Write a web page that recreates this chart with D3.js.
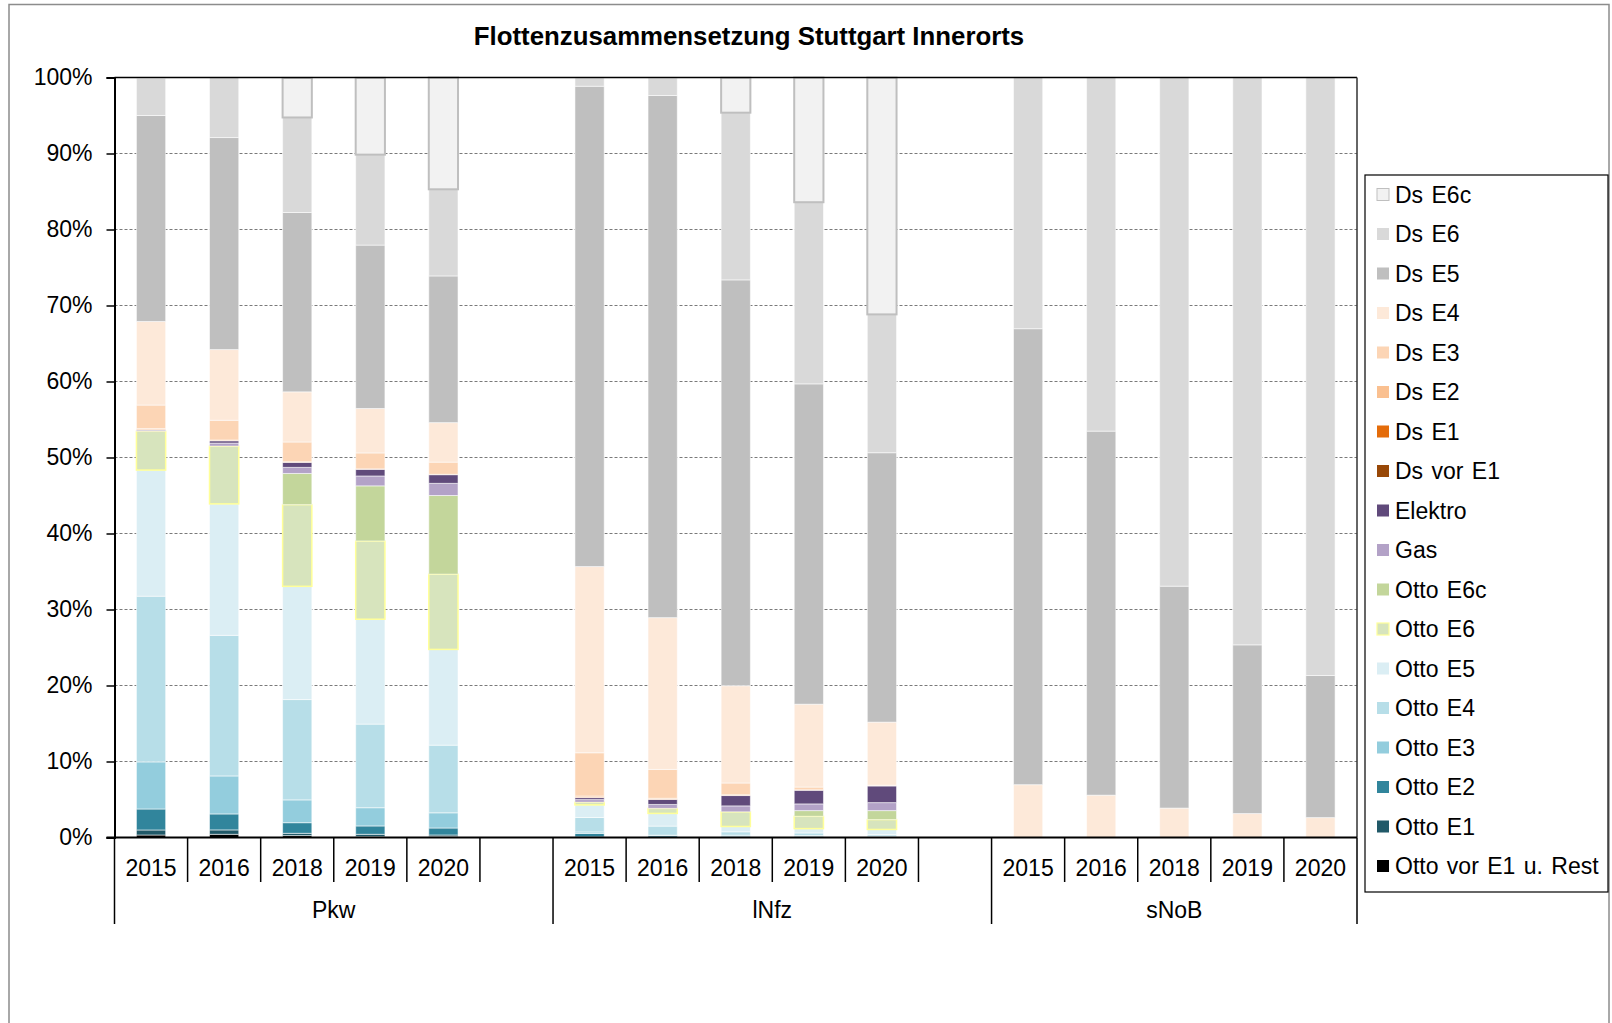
<!DOCTYPE html>
<html>
<head>
<meta charset="utf-8">
<script src="https://cdn.jsdelivr.net/npm/d3@7/dist/d3.min.js"></script>
<style>
  html, body { margin: 0; padding: 0; background: #fff; }
  svg { display: block; font-family: "Liberation Sans", Arial, sans-serif; }
</style>
</head>
<body>
<svg id="chart" width="1612" height="1023"></svg>
<script>
// ---------------- DATA ----------------
const chartTitle = "Flottenzusammensetzung Stuttgart Innerorts";
const groups = ["Pkw", "lNfz", "sNoB"];
const years = ["2015", "2016", "2018", "2019", "2020"];
const yTicks = [0, 10, 20, 30, 40, 50, 60, 70, 80, 90, 100];

// series, bottom of stack first; each array: Pkw 2015..2020, lNfz 2015..2020, sNoB 2015..2020
const seriesNames = ["Otto vor E1 u. Rest", "Otto E1", "Otto E2", "Otto E3", "Otto E4", "Otto E5",
  "Otto E6", "Otto E6c", "Gas", "Elektro", "Ds vor E1", "Ds E1", "Ds E2", "Ds E3", "Ds E4",
  "Ds E5", "Ds E6", "Ds E6c"];
const ottoVorE1 = [0.33, 0.42, 0.25, 0.12, 0.13,  0.03, 0.02, 0.02, 0.02, 0.02,  0, 0, 0, 0, 0];
const ottoE1    = [0.66, 0.58, 0.30, 0.30, 0.20,  0.05, 0.03, 0.03, 0.03, 0.03,  0, 0, 0, 0, 0];
const ottoE2    = [2.76, 2.10, 1.40, 1.10, 0.92,  0.45, 0.20, 0.05, 0.05, 0.05,  0, 0, 0, 0, 0];
const ottoE3    = [6.2, 5.0, 3.0, 2.4, 2.0,       0.20, 0.05, 0.20, 0.15, 0.10,  0, 0, 0, 0, 0];
const ottoE4    = [21.8, 18.5, 13.2, 11.0, 8.9,   1.90, 1.20, 0.45, 0.35, 0.20,  0, 0, 0, 0, 0];
const ottoE5    = [16.6, 17.3, 14.9, 13.8, 12.6,  1.66, 1.67, 0.70, 0.57, 0.66,  0, 0, 0, 0, 0];
const ottoE6    = [5.1, 7.6, 10.75, 10.3, 9.9,    0.35, 0.66, 1.93, 1.62, 1.30,  0, 0, 0, 0, 0];
const ottoE6c   = [0, 0, 4.1, 7.25, 10.35,        0, 0, 0, 0.75, 1.18,           0, 0, 0, 0, 0];
const gas       = [0.1, 0.4, 0.8, 1.3, 1.6,       0.35, 0.52, 0.78, 0.88, 1.05,  0, 0, 0, 0, 0];
const elektro   = [0.1, 0.3, 0.66, 0.88, 1.14,    0.26, 0.66, 1.36, 1.80, 2.20,  0, 0, 0, 0, 0];
const dsVorE1   = [0, 0, 0, 0, 0,                 0, 0, 0, 0, 0,                 0, 0, 0, 0, 0];
const dsE1      = [0, 0, 0, 0, 0,                 0, 0, 0, 0, 0,                 0, 0, 0, 0, 0];
const dsE2      = [0.15, 0.1, 0.08, 0.05, 0.05,   0.2, 0.15, 0.1, 0.05, 0.03,    0, 0, 0, 0, 0];
const dsE3      = [3.1, 2.6, 2.6, 2.1, 1.6,       5.7, 3.8, 1.55, 0.37, 0.06,    0, 0, 0, 0, 0];
const dsE4      = [11.0, 9.3, 6.6, 5.85, 5.2,     24.5, 19.97, 12.8, 10.9, 8.3,  6.95, 5.57, 3.87, 3.15, 2.62];
const dsE5      = [27.1, 27.9, 23.6, 21.5, 19.3,  63.2, 68.7, 53.4, 42.15, 35.45, 60.0, 47.9, 29.2, 22.2, 18.7];
const dsE6      = [4.9, 7.9, 12.5, 11.9, 11.4,   1.1, 2.3, 22.0, 23.9, 18.2,    33.05, 46.53, 66.93, 74.65, 78.68];
const dsE6c     = [0, 0, 5.2, 10.1, 14.7,         0, 0, 4.6, 16.4, 31.15,        0, 0, 0, 0, 0];

const seriesValues = [ottoVorE1, ottoE1, ottoE2, ottoE3, ottoE4, ottoE5, ottoE6, ottoE6c, gas, elektro,
  dsVorE1, dsE1, dsE2, dsE3, dsE4, dsE5, dsE6, dsE6c];
const seriesColors = ["#000000", "#215968", "#31859C", "#93CDDD", "#B7DEE8", "#DBEEF4",
  "#D7E4BD", "#C3D69B", "#B3A2C7", "#604A7B", "#984807", "#E46C0A", "#FAC090", "#FCD5B5",
  "#FDE9D9", "#BFBFBF", "#D9D9D9", "#F2F2F2"];

// ---------------- LAYOUT ----------------
const svg = d3.select("#chart");
const FONT = 23;
const plot = { left: 114.5, right: 1357, top: 77.5, bottom: 837.5 };

// slots: each group = 5 years + 1 blank (last group no blank)
const slots = [];
groups.forEach((g, gi) => {
  years.forEach(yr => slots.push({ key: g + "|" + yr, group: g, year: yr }));
  if (gi < groups.length - 1) slots.push({ key: g + "|blank", group: g, year: null });
});

const x = d3.scaleBand().domain(slots.map(s => s.key)).range([plot.left, plot.right]).padding(0);
const y = d3.scaleLinear().domain([0, 100]).range([plot.bottom, plot.top]);
const barW = x.bandwidth() * 0.4;

// outer frame
svg.append("rect").attr("x", 9).attr("y", 4.5).attr("width", 1600).attr("height", 1030)
  .attr("fill", "#fff").attr("stroke", "#8c8c8c").attr("stroke-width", 1.5);

// title
svg.append("text").attr("x", 749).attr("y", 36).attr("dy", "0.35em")
  .attr("text-anchor", "middle").attr("font-weight", "bold").attr("font-size", 25.8)
  .text(chartTitle);

// gridlines
svg.append("g").selectAll("line").data(yTicks.filter(t => t > 0 && t < 100)).join("line")
  .attr("x1", plot.left).attr("x2", plot.right)
  .attr("y1", d => y(d)).attr("y2", d => y(d))
  .attr("stroke", "#7a7a7a").attr("stroke-width", 1).attr("stroke-dasharray", "3,2");

// stacked bars
const barSlots = slots.filter(s => s.year !== null);
const rows = barSlots.map((s, i) => {
  const r = { key: s.key };
  seriesNames.forEach((n, si) => { r[n] = seriesValues[si][i]; });
  return r;
});
const stacked = d3.stack().keys(seriesNames)(rows);

const barsG = svg.append("g");
stacked.forEach((layer, si) => {
  const name = seriesNames[si];
  let stroke = "rgba(255,255,255,0.55)", sw = 1;
  if (name === "Ds E6c") { stroke = "#BFBFBF"; sw = 2; }
  if (name === "Otto E6") { stroke = "#FFFF99"; sw = 1.5; }
  barsG.append("g").selectAll("rect")
    .data(layer.filter(d => d[1] - d[0] > 0)).join("rect")
    .attr("x", d => x(d.data.key) + (x.bandwidth() - barW) / 2)
    .attr("width", barW)
    .attr("y", d => y(d[1]))
    .attr("height", d => y(d[0]) - y(d[1]))
    .attr("fill", seriesColors[si])
    .attr("stroke", stroke).attr("stroke-width", sw);
});

// plot border top/right
svg.append("line").attr("x1", plot.left).attr("x2", plot.right).attr("y1", plot.top).attr("y2", plot.top)
  .attr("stroke", "#000").attr("stroke-width", 1.5);
svg.append("line").attr("x1", plot.right).attr("x2", plot.right).attr("y1", plot.top).attr("y2", plot.bottom)
  .attr("stroke", "#333").attr("stroke-width", 1.5);

// y axis
const yAxis = svg.append("g").attr("transform", `translate(${plot.left},0)`)
  .call(d3.axisLeft(y).tickValues(yTicks).tickFormat(d => d + "%").tickSize(8).tickPadding(14));
yAxis.select(".domain").attr("stroke", "#000").attr("stroke-width", 2);
yAxis.selectAll(".tick line").attr("stroke", "#000").attr("stroke-width", 1.5);
yAxis.selectAll(".tick text").attr("font-size", FONT).attr("fill", "#000")
  .attr("font-family", "'Liberation Sans', Arial, sans-serif");

// x axis baseline
svg.append("line").attr("x1", plot.left - 8).attr("x2", plot.right).attr("y1", plot.bottom).attr("y2", plot.bottom)
  .attr("stroke", "#000").attr("stroke-width", 2);

// separators
const sepG = svg.append("g").attr("stroke", "#000").attr("stroke-width", 1.5);
slots.forEach((s, i) => {
  const xb = x(s.key);
  const isGroupStart = i === 0 || slots[i - 1].group !== s.group;
  if (isGroupStart) {
    sepG.append("line").attr("x1", xb).attr("x2", xb).attr("y1", plot.bottom).attr("y2", 924);
  } else if (slots[i - 1].year !== null) {
    sepG.append("line").attr("x1", xb).attr("x2", xb).attr("y1", plot.bottom).attr("y2", 882);
  }
});
sepG.append("line").attr("x1", plot.right).attr("x2", plot.right).attr("y1", plot.bottom).attr("y2", 924);

// year labels
svg.append("g").selectAll("text").data(barSlots).join("text")
  .attr("x", d => x(d.key) + x.bandwidth() / 2).attr("y", 868).attr("dy", "0.35em")
  .attr("text-anchor", "middle").attr("font-size", FONT).text(d => d.year);

// group labels
svg.append("g").selectAll("text").data(groups).join("text")
  .attr("x", g => {
    const ks = slots.filter(s => s.group === g);
    const x0 = x(ks[0].key), x1 = x(ks[ks.length - 1].key) + x.bandwidth();
    return (x0 + x1) / 2;
  })
  .attr("y", 910).attr("dy", "0.35em").attr("text-anchor", "middle").attr("font-size", FONT)
  .text(g => g);

// legend
const leg = svg.append("g");
leg.append("rect").attr("x", 1365).attr("y", 175).attr("width", 243).attr("height", 717)
  .attr("fill", "#fff").attr("stroke", "#000").attr("stroke-width", 1.2);
const legendOrder = seriesNames.map((n, i) => i).reverse();
legendOrder.forEach((si, k) => {
  const cy = 194.5 + k * 39.5;
  const name = seriesNames[si];
  let stroke = "none", sw = 0;
  if (name === "Ds E6c") { stroke = "#BFBFBF"; sw = 1; }
  if (name === "Otto E6") { stroke = "#FFFF99"; sw = 1.2; }
  leg.append("rect").attr("x", 1377).attr("y", cy - 6).attr("width", 12).attr("height", 12)
    .attr("fill", seriesColors[si]).attr("stroke", stroke).attr("stroke-width", sw);
  leg.append("text").attr("x", 1395).attr("y", cy).attr("dy", "0.35em")
    .attr("font-size", 23).attr("word-spacing", 2).text(name);
});
</script>
</body>
</html>
